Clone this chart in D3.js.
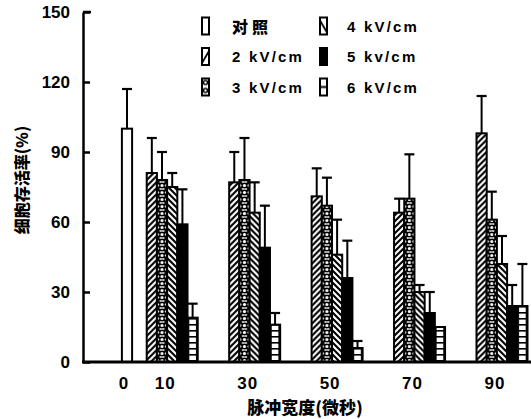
<!DOCTYPE html>
<html>
<head>
<meta charset="utf-8">
<script src="https://cdn.jsdelivr.net/npm/d3@7"></script>
<style>
  body { margin: 0; background: #fff; }
  svg { display: block; }
  text { font-family: "Liberation Sans", Arial, sans-serif; font-weight: bold; fill: #000; }
  .cjk { font-family: "Noto Sans CJK SC", sans-serif; font-weight: 900; }
</style>
</head>
<body>
<div class="canvas"></div>
<script>
// pulse widths (us)
const widths = [10, 30, 50, 70, 90];
const controlValue = 100;
const controlErr = 17;

const seriesNames = ["2 kV/cm", "3 kV/cm", "4 kV/cm", "5 kv/cm", "6 kV/cm"];
const v2 = [81, 77, 71, 64, 98];
const e2 = [15, 13, 12, 6, 16];
const v3 = [78, 78, 67, 70, 61];
const e3 = [12, 18, 12, 19, 12];
const v4 = [75, 64, 46, 30, 42];
const e4 = [6, 13, 15, 3, 12];
const v5 = [59, 49, 36, 21, 24];
const e5 = [15, 18, 16, 9, 9];
const v6 = [19, 16, 6, 15, 24];
const e6 = [6, 5, 3, 0, 18];

const yTicks = [0, 30, 60, 90, 120, 150];
const xTicks = [0, 10, 30, 50, 70, 90];

const values = [v2, v3, v4, v5, v6];
const errs = [e2, e3, e4, e5, e6];
const fills = ["fwd", "circ", "back", "solid", "ladder"];

const W = 531, H = 419;
const svg = d3.select(".canvas").append("svg")
    .attr("width", W)
    .attr("height", H);
const defs = svg.append("defs");

const y = d3.scaleLinear().domain([0, 150]).range([362, 12]);
const x = d3.scaleLinear().domain([0, 90]).range([131, 502]);
const inner = d3.scaleBand().domain(d3.range(5)).range([-25.5, 25.5]);
const bw = inner.bandwidth();

// patterns
function makePattern(id, kind, x0) {
    if (kind === "fwd" || kind === "back") {
        const p = defs.append("pattern").attr("id", id)
            .attr("patternUnits", "userSpaceOnUse")
            .attr("width", 6).attr("height", 6)
            .attr("x", x0);
        p.append("rect").attr("width", 6).attr("height", 6).attr("fill", "#fff");
        const d = kind === "fwd" ? "M-1,7 L7,-1 M-4,4 L4,-4 M2,10 L10,2" : "M-1,-1 L7,7 M-4,2 L4,10 M2,-4 L10,4";
        p.append("path").attr("d", d).attr("stroke", "#000").attr("stroke-width", 2.1);
        return;
    }
    if (kind === "circ") {
        const p = defs.append("pattern").attr("id", id)
            .attr("patternUnits", "userSpaceOnUse")
            .attr("width", bw).attr("height", 7)
            .attr("x", x0);
        p.append("rect").attr("width", bw).attr("height", 7).attr("fill", "#fff");
        p.append("path").attr("d", `M0,0 L${bw},7 M${bw},0 L0,7`)
            .attr("stroke", "#000").attr("stroke-width", 2.4);
        p.append("circle").attr("cx", bw / 2).attr("cy", 3.5).attr("r", 2.3)
            .attr("fill", "#fff").attr("stroke", "#000").attr("stroke-width", 1.4);
        return;
    }
    if (kind === "ladder") {
        const p = defs.append("pattern").attr("id", id)
            .attr("patternUnits", "userSpaceOnUse")
            .attr("width", bw).attr("height", 6)
            .attr("x", x0);
        p.append("rect").attr("width", bw).attr("height", 6).attr("fill", "#fff");
        p.append("line").attr("x1", 0).attr("x2", bw).attr("y1", 0.5).attr("y2", 0.5)
            .attr("stroke", "#000").attr("stroke-width", 2.2);
        p.append("line").attr("x1", 0.5).attr("x2", 0.5).attr("y1", 0).attr("y2", 6)
            .attr("stroke", "#000").attr("stroke-width", 2.5);
        p.append("line").attr("x1", bw - 0.5).attr("x2", bw - 0.5).attr("y1", 0).attr("y2", 6)
            .attr("stroke", "#000").attr("stroke-width", 2.5);
    }
}
function fillFor(kind, id, x0) {
    if (kind === "solid") return "#000";
    makePattern(id, kind, x0);
    return `url(#${id})`;
}

// bar data
const bars = [];
widths.forEach((w, gi) => {
    values.forEach((vals, si) => {
        bars.push({ w, si, v: vals[gi], e: errs[si][gi], id: `p-${si}-${gi}` });
    });
});

function drawBar(g, bx, bwid, v, e, fill) {
    if (e > 0) {
        const cx = bx + bwid / 2;
        g.append("line").attr("x1", cx).attr("x2", cx)
            .attr("y1", y(v)).attr("y2", y(v + e))
            .attr("stroke", "#000").attr("stroke-width", 2);
        g.append("line").attr("x1", cx - 5).attr("x2", cx + 5)
            .attr("y1", y(v + e)).attr("y2", y(v + e))
            .attr("stroke", "#000").attr("stroke-width", 2.2);
    }
    g.append("rect")
        .attr("x", bx).attr("y", y(v))
        .attr("width", bwid).attr("height", y(0) - y(v))
        .attr("fill", fill)
        .attr("stroke", "#000").attr("stroke-width", 2);
}

const plot = svg.append("g");
// control
drawBar(plot, x(0) - 4 - bw / 2, bw, controlValue, controlErr, "#fff");
bars.forEach(d => {
    const bx = x(d.w) + inner(d.si);
    drawBar(plot, bx, bw, d.v, d.e, fillFor(fills[d.si], d.id, bx));
});

// y axis
const yAxis = d3.axisLeft(y).tickValues(yTicks)
    .tickSizeInner(-7).tickSizeOuter(0).tickPadding(13);
const ga = svg.append("g").attr("transform", "translate(83,0)").call(yAxis);
ga.select(".domain").attr("stroke", "#000").attr("stroke-width", 2.5);
ga.selectAll(".tick line").attr("stroke", "#000").attr("stroke-width", 2.5);
ga.selectAll(".tick text").style("font-size", "17px").style("font-family", "Liberation Sans, Arial, sans-serif")
    .style("font-weight", "bold").attr("fill", "#000");
ga.append("line").attr("x1", 0).attr("x2", 8).attr("y1", y(150)).attr("y2", y(150))
    .attr("stroke", "#000").attr("stroke-width", 2.5);

// baseline
svg.append("line").attr("x1", 82).attr("x2", W).attr("y1", y(0)).attr("y2", y(0))
    .attr("stroke", "#000").attr("stroke-width", 3);

// x tick labels
svg.append("g").selectAll("text").data(xTicks).join("text")
    .attr("x", d => x(d) - 7)
    .attr("y", 389)
    .attr("text-anchor", "middle")
    .style("font-size", "17px")
    .style("letter-spacing", "1px")
    .text(d => d);

// axis titles
svg.append("text").attr("class", "cjk")
    .attr("transform", "translate(28,180) rotate(-90)")
    .attr("text-anchor", "middle")
    .style("font-size", "16px")
    .text("细胞存活率(%)");
svg.append("text").attr("class", "cjk")
    .attr("x", 305).attr("y", 414)
    .attr("text-anchor", "middle")
    .style("font-size", "17px")
    .text("脉冲宽度(微秒)");

// legend
const legendItems = [
    { label: "对照", kind: "none", col: 0, row: 0 },
    { label: seriesNames[0], kind: "fwd", col: 0, row: 1 },
    { label: seriesNames[1], kind: "circ", col: 0, row: 2 },
    { label: seriesNames[2], kind: "back", col: 1, row: 0 },
    { label: seriesNames[3], kind: "solid", col: 1, row: 1 },
    { label: seriesNames[4], kind: "ladder", col: 1, row: 2 }
];
const lg = svg.append("g");
legendItems.forEach((d, i) => {
    const sx = d.col === 0 ? 202 : 320;
    const cy = 26 + d.row * 30.5;
    let f = "#fff";
    if (d.kind !== "none") {
        if (d.kind === "solid") f = "#000";
        else {
            const id = "lg" + i;
            const p = defs.append("pattern").attr("id", id)
                .attr("patternUnits", "userSpaceOnUse")
                .attr("width", 7).attr("height", d.kind === "circ" ? 8 : 17)
                .attr("x", sx).attr("y", cy - 8.5);
            p.append("rect").attr("width", 7).attr("height", 17).attr("fill", "#fff");
            if (d.kind === "fwd") p.append("path").attr("d", "M0,15 L7,3").attr("stroke", "#000").attr("stroke-width", 1.8);
            if (d.kind === "back") p.append("path").attr("d", "M0,3 L7,15").attr("stroke", "#000").attr("stroke-width", 1.8);
            if (d.kind === "circ") p.append("circle").attr("cx", 3.5).attr("cy", 4).attr("r", 2)
                .attr("fill", "#fff").attr("stroke", "#000").attr("stroke-width", 1.5);
            if (d.kind === "ladder") p.append("line").attr("x1", 0).attr("x2", 7).attr("y1", 8.5).attr("y2", 8.5)
                .attr("stroke", "#000").attr("stroke-width", 2);
            f = `url(#${id})`;
        }
    }
    lg.append("rect").attr("x", sx).attr("y", cy - 8.5)
        .attr("width", 7).attr("height", 17)
        .attr("fill", f).attr("stroke", "#000").attr("stroke-width", 2);
    lg.append("text")
        .attr("class", d.kind === "none" ? "cjk" : null)
        .attr("x", sx + (d.col === 0 ? 30 : 27))
        .attr("y", cy)
        .attr("dominant-baseline", "central")
        .style("font-size", d.kind === "none" ? "16px" : "15px")
        .style("letter-spacing", d.kind === "none" ? "4px" : "2.2px")
        .text(d.label);
});
</script>
</body>
</html>
